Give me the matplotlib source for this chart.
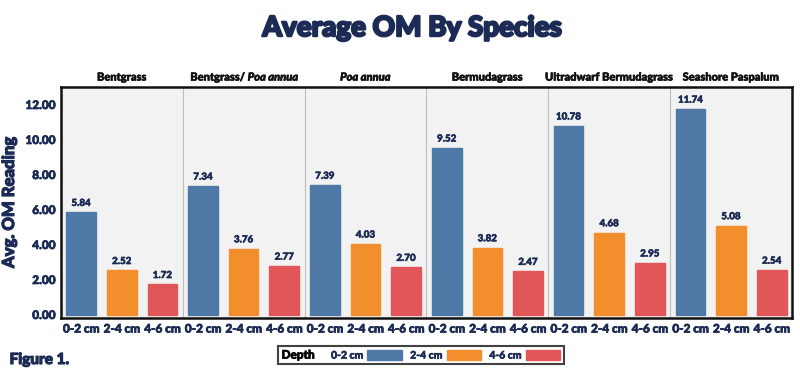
import matplotlib.pyplot as plt
import matplotlib.patheffects as pe
import numpy as np
from matplotlib.offsetbox import HPacker

species = ['Bentgrass', 'Bentgrass/ ', 'Poa annua', 'Bermudagrass',
           'Ultradwarf Bermudagrass', 'Seashore Paspalum']
depths = ['0-2 cm', '2-4 cm', '4-6 cm']
om_0_2 = [5.84, 7.34, 7.39, 9.52, 10.78, 11.74]
om_2_4 = [2.52, 3.76, 4.03, 3.82, 4.68, 5.08]
om_4_6 = [1.72, 2.77, 2.70, 2.47, 2.95, 2.54]

colors = ['#4e79a7', '#f28e2b', '#e15759']
navy = '#1c2b55'

plt.rcParams['font.family'] = ['Lato', 'DejaVu Sans']

fig = plt.figure(figsize=(8, 3.75), dpi=100)
ax = fig.add_axes([0.076, 0.152, 0.914, 0.616])
ax.set_facecolor('#f2f2f2')

# thicken text a little (the original uses a very heavy face)
fat = lambda w, c: [pe.withStroke(linewidth=w, foreground=c)]

series = [om_0_2, om_2_4, om_4_6]
for i, vals in enumerate(series):
    x = np.arange(len(species)) * 3 + i
    ax.bar(x, vals, width=0.73, color=colors[i], edgecolor=colors[i], zorder=3)
    for xx, v in zip(x, vals):
        ax.text(xx, v + 0.25, f'{v:.2f}', ha='center', va='bottom', fontsize=7,
                fontweight='black', color=navy, zorder=4, path_effects=fat(0.4, navy))

ax.set_xlim(-0.5, 3 * len(species) - 0.5)
ax.set_ylim(-0.2, 13)
for k in range(1, len(species)):
    ax.axvline(3 * k - 0.5, color='#bdbdbd', lw=0.8, zorder=1)

ax.set_xticks(np.arange(3 * len(species)))
ax.set_xticklabels(depths * len(species))
ax.set_yticks(np.arange(0, 13, 2))
ax.set_yticklabels([f'{t:.2f}' for t in np.arange(0, 13, 2)])
ax.tick_params(length=0, labelsize=8.5, labelcolor=navy, pad=4)
for lab in ax.get_xticklabels() + ax.get_yticklabels():
    lab.set_fontweight('black')
    lab.set_path_effects(fat(0.5, navy))
for s in ax.spines.values():
    s.set_linewidth(1.8)
    s.set_color('#111111')

ax.set_ylabel('Avg. OM Reading', fontsize=12, fontweight='black', color=navy, labelpad=6,
              path_effects=fat(0.8, navy))

# panel headers
hy = 13.25
hkw = dict(va='bottom', fontsize=8, fontweight='black', color='#111111',
           path_effects=fat(0.4, '#111111'))
for k, name in enumerate(species):
    if name == 'Poa annua':
        ax.text(3 * k + 1, hy, name, ha='center', style='italic', **hkw)
    elif k == 1:
        ax.text(3 * k + 1.1, hy, name, ha='right', **hkw)
        ax.text(3 * k + 1.1, hy, 'Poa annua', ha='left', style='italic', **hkw)
    else:
        ax.text(3 * k + 1, hy, name, ha='center', **hkw)

fig.text(0.515, 0.925, 'Average OM By Species', ha='center', va='center', fontsize=20,
         fontweight='black', color=navy, path_effects=fat(1.6, navy))
fig.text(0.012, 0.04, 'Figure 1.', ha='left', va='center', fontsize=11,
         fontweight='black', color=navy, path_effects=fat(0.8, navy))

# legend
handles = [plt.Rectangle((0, 0), 1, 1, color=c) for c in colors]
leg = fig.legend(handles, depths, loc='center', bbox_to_anchor=(0.526, 0.053), ncol=3,
                 title='Depth', frameon=True, fontsize=7.5, handlelength=3.3,
                 handleheight=1.2, markerfirst=False, columnspacing=0.8,
                 handletextpad=0.4, borderpad=0.35, fancybox=False)
leg.get_frame().set_edgecolor('#111111')
leg.get_frame().set_linewidth(1.5)
leg.get_title().set_fontweight('black')
leg.get_title().set_fontsize(8.5)
leg.get_title().set_path_effects(fat(0.5, '#111111'))
for t in leg.get_texts():
    t.set_fontweight('black')
    t.set_color(navy)
    t.set_path_effects(fat(0.4, navy))
# put the legend title to the left of the entries
leg._legend_box._children = [HPacker(pad=0, sep=12, align='center',
                                     children=[leg._legend_title_box,
                                               leg._legend_handle_box])]

fig.savefig('out.png', dpi=100)
